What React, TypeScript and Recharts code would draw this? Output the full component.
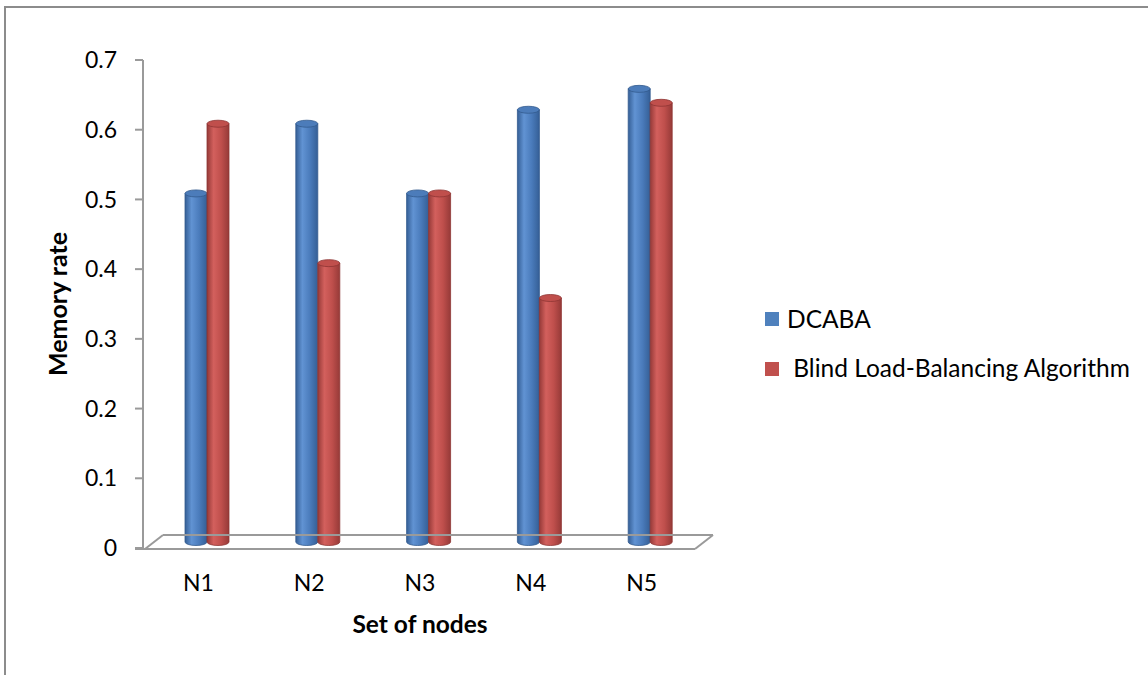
import React from 'react';
import { BarChart, Bar, XAxis, YAxis, Legend, ReferenceLine } from 'recharts';

// Memory rate per node for the two load-balancing schemes
const nodes = ['N1', 'N2', 'N3', 'N4', 'N5'];
const dcabaValues = [0.5, 0.6, 0.5, 0.62, 0.65];
const blindValues = [0.6, 0.4, 0.5, 0.35, 0.63];
const yTicks = [0, 0.1, 0.2, 0.3, 0.4, 0.5, 0.6, 0.7];

const seriesInfo = [
  { key: 'dcaba', name: 'DCABA', color: '#4F81BD' },
  { key: 'blind', name: ' Blind Load-Balancing Algorithm', color: '#C0504D' },
];

const data = nodes.map((node, i) => ({ node, dcaba: dcabaValues[i], blind: blindValues[i] }));

const FONT = 'Lato, "Open Sans", sans-serif';
const AXIS_GREY = '#9a9a9a';
const TICK_SIZE_PX = 23;
const LEGEND_SIZE_PX = 24.5;

// pseudo-3D offsets: bars sit in the middle of the floor's depth
const DEPTH_X = 9;
const DEPTH_Y = -6;
const RY = 3.5;

type Shade = { id: string; dark: string; light: string; mid: string; edge: string; top: string };

const blueShade: Shade = { id: 'cylBlue', dark: '#355f96', light: '#6193d3', mid: '#4a7bbb', edge: '#325a8e', top: '#4c7cba' };
const redShade: Shade = { id: 'cylRed', dark: '#963a38', light: '#d3605d', mid: '#bf4f4c', edge: '#8e3533', top: '#c04f4c' };

function makeCylinder(s: Shade) {
  return (props: any) => {
    const { x, y, width, height } = props;
    if (x == null || width == null || height == null) return <g />;
    const x0 = x + DEPTH_X;
    const x1 = x0 + width;
    const rx = width / 2;
    const top = y + DEPTH_Y;
    const bot = y + height + DEPTH_Y;
    const body = `M${x0},${top} L${x0},${bot} A${rx},${RY} 0 0 0 ${x1},${bot} L${x1},${top} Z`;
    return (
      <g>
        <defs>
          <linearGradient id={s.id} x1="0" y1="0" x2="1" y2="0">
            <stop offset="0%" stopColor={s.dark} />
            <stop offset="30%" stopColor={s.light} />
            <stop offset="65%" stopColor={s.mid} />
            <stop offset="100%" stopColor={s.dark} />
          </linearGradient>
        </defs>
        <path d={body} fill={`url(#${s.id})`} stroke={s.edge} strokeWidth={0.8} />
        <ellipse cx={x0 + rx} cy={top} rx={rx} ry={RY} fill={s.top} stroke={s.edge} strokeWidth={0.8} />
      </g>
    );
  };
}

// floor of the 3D plot area, anchored on the zero line
const Floor = (props: any) => {
  const { x1, y1, x2 } = props;
  if (x1 == null) return <g />;
  const y = y1 + 1;
  const dx = 18;
  const dy = -14;
  const left = x1 + 2;
  const right = x2 - 2;
  return (
    <g stroke={AXIS_GREY} strokeWidth={2} fill="none">
      <line x1={x1 - 8} y1={y} x2={right} y2={y} />
      <line x1={left} y1={y} x2={left + dx} y2={y + dy} />
      <line x1={right} y1={y} x2={right + dx} y2={y + dy} />
      <line x1={left + dx} y1={y + dy} x2={right + dx} y2={y + dy} />
    </g>
  );
};

const renderLegend = () => (
  <div
    style={{
      position: 'relative',
      width: 388,
      height: 90,
      fontFamily: FONT,
      fontSize: LEGEND_SIZE_PX,
      color: '#000',
      lineHeight: `${LEGEND_SIZE_PX * 1.2}px`,
    }}
  >
    {seriesInfo.map((s, i) => (
      <React.Fragment key={s.key}>
        <div style={{ position: 'absolute', left: 5, top: 12 + i * 50, width: 14, height: 14, background: s.color }} />
        <div style={{ position: 'absolute', left: 27, top: 3.6 + i * 49.5, whiteSpace: 'pre' }}>{s.name}</div>
      </React.Fragment>
    ))}
  </div>
);

const YTitle = (p: any) => {
  const vb = p.viewBox || {};
  const cx = vb.x + 24;
  const cy = vb.y + vb.height / 2;
  return (
    <text x={cx} y={cy} transform={`rotate(-90 ${cx} ${cy})`} textAnchor="middle" fontFamily={FONT} fontSize={25} fontWeight="bold" fill="#000">
      Memory rate
    </text>
  );
};

const XTitle = (p: any) => {
  const vb = p.viewBox || {};
  return (
    <text x={vb.x + vb.width / 2} y={vb.y + 85} textAnchor="middle" fontFamily={FONT} fontSize={24.5} fontWeight="bold" fill="#000">
      Set of nodes
    </text>
  );
};

export default function App() {
  return (
    <div style={{ position: 'absolute', left: 0, top: 0, width: 1148, height: 675, overflow: 'hidden', background: '#fff' }}>
      <div
        style={{
          position: 'absolute',
          left: 4,
          top: 6,
          width: 1300,
          height: 800,
          borderLeft: '2px solid #8c8c8c',
          borderTop: '2px solid #8c8c8c',
        }}
      />
      <BarChart
        width={1148}
        height={675}
        data={data}
        margin={{ top: 60, right: 451, bottom: 37, left: 43 }}
        barGap={0}
        barSize={22}
      >
        <ReferenceLine y={0} shape={<Floor />} ifOverflow="extendDomain" />
        <XAxis
          dataKey="node"
          axisLine={false}
          tickLine={false}
          tickSize={8}
          tickMargin={19}
          height={90}
          interval={0}
          tick={{ fill: '#000', fontSize: TICK_SIZE_PX, fontFamily: FONT }}
          label={{ content: XTitle }}
        />
        <YAxis
          width={100}
          domain={[0, 0.7]}
          ticks={yTicks}
          interval={0}
          allowDecimals
          axisLine={{ stroke: AXIS_GREY, strokeWidth: 2 }}
          tickLine={{ stroke: AXIS_GREY, strokeWidth: 2 }}
          tickSize={8}
          tickMargin={18}
          tick={{ fill: '#000', fontSize: TICK_SIZE_PX, fontFamily: FONT }}
          label={{ content: YTitle }}
        />
        <Legend
          layout="horizontal"
          align="center"
          verticalAlign="middle"
          content={renderLegend}
          wrapperStyle={{ left: 760, top: 300, width: 388, height: 90 }}
        />
        <Bar dataKey="dcaba" name="DCABA" fill="#4F81BD" shape={makeCylinder(blueShade)} isAnimationActive={false} />
        <Bar dataKey="blind" name="Blind Load-Balancing Algorithm" fill="#C0504D" shape={makeCylinder(redShade)} isAnimationActive={false} />
      </BarChart>
    </div>
  );
}
